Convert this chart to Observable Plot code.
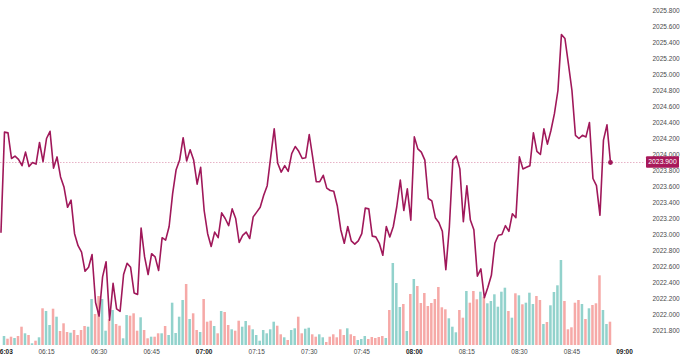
<!DOCTYPE html>
<html><head><meta charset="utf-8">
<script src="https://cdn.jsdelivr.net/npm/d3@7"></script>
<script src="https://cdn.jsdelivr.net/npm/@observablehq/plot@0.6"></script>
<style>
html,body{margin:0;padding:0;background:#fff;}
#chart{position:relative;width:680px;height:361px;overflow:hidden;}
#chart svg{position:absolute;left:0;top:0;overflow:hidden;}
</style></head><body><div id="chart"></div>
<script>
// 1-minute closes, first value at 06:02
const priceStart = "06:02";
const prices = [
2023.03,
2024.28,2024.27,2023.95,2023.98,2023.94,2023.86,2024.03,2023.85,2023.90,2023.88,
2024.15,2023.91,2024.20,2024.29,2023.83,2023.97,2023.72,2023.59,2023.34,2023.43,
2023.01,2022.86,2022.78,2022.54,2022.59,2022.75,2022.15,2021.98,2022.47,2022.66,
2021.93,2022.39,2022.07,2022.04,2022.50,2022.64,2022.59,2022.27,2022.25,2023.08,
2022.72,2022.50,2022.76,2022.72,2022.55,2022.96,2022.93,2023.10,2023.51,2023.81,
2023.93,2024.21,2023.92,2024.06,2023.93,2023.63,2023.84,2023.30,2023.01,2022.85,
2023.03,2022.96,2023.27,2023.20,2023.11,2023.32,2023.20,2022.90,2022.99,2023.03,
2022.95,2023.22,2023.28,2023.34,2023.49,2023.61,2023.97,2024.32,2023.89,2023.78,
2023.86,2023.79,2024.01,2024.10,2024.04,2023.95,2023.96,2024.25,2023.96,2023.66,
2023.66,2023.74,2023.58,2023.55,2023.54,2023.36,2023.06,2022.89,2023.10,2022.92,
2022.88,2022.92,2023.01,2023.33,2023.32,2022.98,2022.97,2022.89,2022.74,2023.10,
2022.97,2023.10,2023.35,2023.68,2023.30,2023.57,2023.18,2024.22,2024.07,2024.03,
2023.93,2023.45,2023.42,2023.21,2023.15,2023.04,2022.56,2023.09,2023.93,2023.98,
2023.82,2023.16,2023.61,2023.18,2023.06,2022.48,2022.57,2022.21,2022.34,2022.49,
2022.89,2022.99,2023.00,2023.11,2023.04,2023.26,2023.21,2023.97,2023.82,2023.84,
2023.86,2024.27,2024.04,2024.00,2024.32,2024.13,2024.30,2024.51,2024.80,2025.50,
2025.45,2025.13,2024.80,2024.24,2024.20,2024.24,2024.22,2024.40,2023.70,2023.61,
2023.24,2024.18,2024.37,2023.90
];
// 1-minute volumes, first value at 06:03
const volumeStart = "06:03";
const volumes = [
9,6.3,8.3,7,9,18.3,11.7,10,1.7,4.3,
7.7,36.7,34,20,36.3,28.3,14,21.7,13,12.3,
15,10,15,19,18.3,46,31,49,46,14.3,
25.7,35,21,19.3,6.7,30,29.3,31.7,14.3,27.7,
15,6.7,8.3,8.3,11.7,11.7,19,10,42.3,12,
28.3,45,61,26,31.7,15,13,46,23.3,24.3,
19,11.7,34,33,20,15.7,14.3,24.3,18.3,24,
19.7,15.7,10,4.3,15,11.7,15.7,23.3,19.3,10.7,
7.7,5,15,16.7,28.3,11.7,16.3,17.3,10.7,8.3,
10.7,7.7,3,8.3,10.7,7.7,15.7,10,16.7,10.7,
9,5,6,9,6,8,7,8,9,7,
35,82,62,38,41,14,51,66,59,42,
52,39,42,46,58,37.7,35.7,26.7,18.3,12.7,
35,27.3,54,42.3,54,45.7,53.3,48.3,41.7,44,
50.7,38.3,53.3,57.3,34,27.3,51.7,49.7,40.7,42.3,
52.3,41,49,45,21,23,39.7,53,59.7,85,
44,15.7,17.7,42.3,45,41,26,36.7,40,41.7,
69.7,35,21,23.3
];
const xTickLabels = ["06:03","06:15","06:30","06:45","07:00","07:15","07:30","07:45","08:00","08:15","08:30","08:45","09:00"];
const boldTickLabels = ["06:03","07:00","08:00","09:00"];
const yTicks = [2021.8,2022.0,2022.2,2022.4,2022.6,2022.8,2023.0,2023.2,2023.4,2023.6,2023.8,2024.0,2024.2,2024.4,2024.6,2024.8,2025.0,2025.2,2025.4,2025.6,2025.8];
const lastPrice = 2023.900;

const W = 680, H = 361;
const MIN = 60000;
const base = Date.UTC(2024, 0, 2);
const toDate = s => { const [h, m] = s.split(":").map(Number); return new Date(base + (h * 60 + m) * MIN); };
const p0 = toDate(priceStart), v0 = toDate(volumeStart);
const priceData = prices.map((p, i) => ({time: new Date(+p0 + i * MIN), price: p}));
const volData = volumes.map((v, i) => ({
  time: new Date(+v0 + i * MIN), volume: v, up: prices[i + 1] >= prices[i]
}));
const xDomain = [new Date(+v0 - 1.142 * MIN), new Date(+v0 + 183 * MIN)];
const font = "'Liberation Sans', Arial, sans-serif";
const fmt = d3.utcFormat("%H:%M");
const normalTicks = xTickLabels.filter(s => !boldTickLabels.includes(s)).map(toDate);
const boldTicks = boldTickLabels.map(toDate);

const volPlot = Plot.plot({
  width: W, height: H,
  marginLeft: 0, marginRight: 35, marginTop: 245, marginBottom: 16,
  x: {type: "utc", domain: xDomain, label: null},
  y: {domain: [0, 100], axis: null},
  color: {type: "identity"},
  style: {background: "transparent", fontFamily: font, fontSize: "6.5px", color: "#4a4a4a", overflow: "hidden"},
  marks: [
    Plot.rectY(volData, {
      x1: d => new Date(+d.time - 0.36 * MIN),
      x2: d => new Date(+d.time + 0.36 * MIN),
      y: "volume",
      fill: d => d.up ? "#92d2cc" : "#f6a9a7"
    }),
    Plot.axisX({ticks: normalTicks, tickFormat: fmt, tickSize: 0, tickPadding: 4, label: null}),
    Plot.axisX({ticks: boldTicks, tickFormat: fmt, tickSize: 0, tickPadding: 4, label: null, fontWeight: "bold", fill: "#222"})
  ]
});

const lineColor = "#a0185a";
const pricePlot = Plot.plot({
  width: W, height: H,
  marginLeft: 0, marginRight: 35, marginTop: 10, marginBottom: 31,
  x: {type: "utc", domain: xDomain, axis: null},
  y: {domain: [2021.8, 2025.8], label: null},
  style: {background: "transparent", fontFamily: font, fontSize: "6.5px", color: "#4a4a4a", overflow: "hidden"},
  marks: [
    Plot.ruleY([lastPrice], {stroke: "#e7b3c7", strokeDasharray: "1.5,1.5"}),
    Plot.axisY({anchor: "right", ticks: yTicks, tickSize: 0, tickPadding: 7, textAnchor: "start", label: null, tickFormat: d => d.toFixed(3)}),
    Plot.line(priceData, {x: "time", y: "price", stroke: lineColor, strokeWidth: 1.6, strokeLinejoin: "round"}),
    Plot.dot([priceData[priceData.length - 1]], {x: "time", y: "price", r: 2.4, fill: lineColor})
  ]
});

// last-price label box on the price scale
const yPix = pricePlot.scale("y").apply(lastPrice);
const svg = d3.select(pricePlot);
const g = svg.append("g");
g.append("rect").attr("x", W - 34).attr("y", yPix - 5.8).attr("width", 33).attr("height", 11.6).attr("rx", 1).attr("fill", "#a8185a");
g.append("text").attr("x", W - 17.5).attr("y", yPix).attr("dy", "0.35em").attr("text-anchor", "middle")
  .attr("fill", "#fff").attr("font-size", "6.8px").attr("font-family", font).text(lastPrice.toFixed(3));

const chart = document.getElementById("chart");
chart.appendChild(volPlot);
chart.appendChild(pricePlot);
</script>
</body></html>
